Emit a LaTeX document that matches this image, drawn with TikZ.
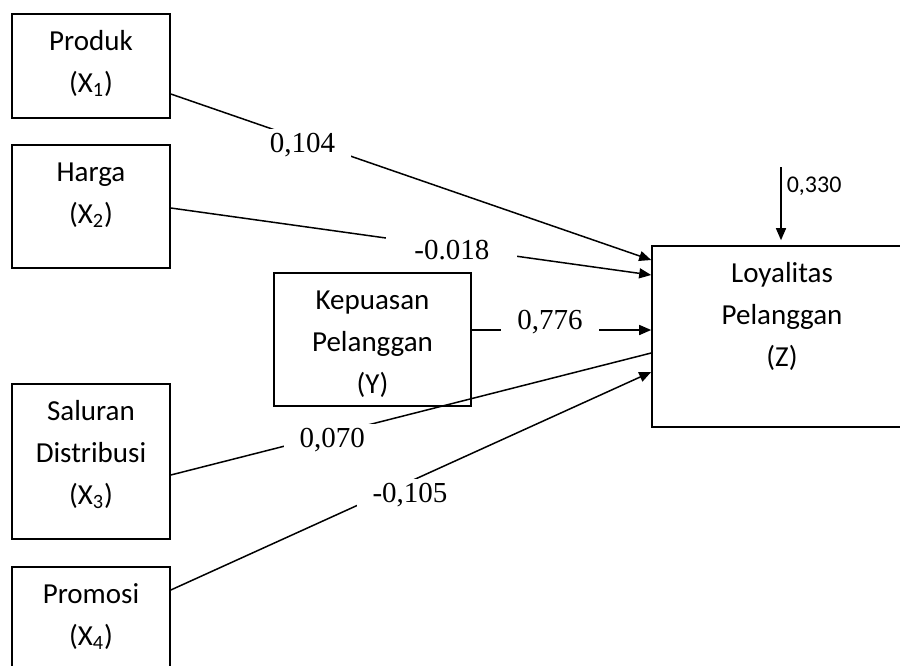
\documentclass[tikz,border=0pt]{standalone}
\usepackage{fontspec}
\setmainfont{Liberation Serif}
\newfontfamily\cfont{Carlito}
\usetikzlibrary{positioning,arrows.meta}

\begin{document}
\begin{tikzpicture}[node distance=70pt,
    varbox/.style={draw, line width=0.8pt, text width=75pt, align=center, inner xsep=2pt, inner ysep=0pt, text height=18pt, font=\cfont\fontsize{14.5}{21}\selectfont},
    coef/.style={fill=white, inner xsep=8pt, inner ysep=2pt, font=\fontsize{14.5}{16}\selectfont},
    panah/.style={line width=0.75pt, -{Triangle[length=6pt,width=5pt]}}]
    \useasboundingbox (0,0) rectangle (450pt,-332.5pt);
    \clip (0,0) rectangle (450pt,-332.5pt);
    % Variabel
    \node[varbox, text depth=34pt] (produk) at (45.5pt,-33pt) {Produk\\(X\textsubscript{1})};
    \node[varbox, text depth=43.5pt, below of=produk, yshift=-0.25pt] (harga) {Harga\\(X\textsubscript{2})};
    \node[varbox, text depth=59.5pt, below of=harga, yshift=-57.5pt] (saluran) {Saluran\\Distribusi\\(X\textsubscript{3})};
    \node[varbox, text depth=32pt, below of=saluran, yshift=-7.75pt] (promosi) {Promosi\\(X\textsubscript{4})};

    \node[varbox, text depth=48.5pt, text width=94.5pt] (kepuasan) at (186.25pt,-169.75pt) {Kepuasan\\Pelanggan\\(Y)};
    \node[varbox, text depth=72.5pt, text width=126pt, right of=kepuasan, xshift=134.75pt, yshift=1.5pt] (loyal) {Loyalitas\\Pelanggan\\(Z)};

    % Jalur
    \draw[panah] ([yshift=-14pt]produk.east) -- node[coef, pos=0.274, yshift=-2.75pt] {0,104} ([yshift=38.25pt]loyal.west);
    \draw[panah] ([yshift=-0.75pt]harga.east) -- node[coef, pos=0.585, yshift=-1.4pt, inner xsep=14pt] {-0.018} ([yshift=30.75pt]loyal.west);
    \draw[panah] ([yshift=4.75pt]kepuasan.east) -- node[coef, pos=0.436, yshift=3.75pt] {0,776} ([yshift=3.25pt]loyal.west);
    \draw[line width=0.75pt] ([yshift=-6.75pt]saluran.east) -- node[coef, pos=0.336, yshift=-3pt] {0,070} ([yshift=-8.25pt]loyal.west);
    \draw[panah] ([yshift=13.5pt]promosi.east) -- node[coef, pos=0.498, yshift=-6.75pt] {-0,105} ([yshift=-17.75pt]loyal.west);

    \coordinate (galat) at ([xshift=-0.5pt, yshift=39pt]loyal.north);
    \draw[panah, shorten >=2.5pt] (galat) -- node[pos=0.25, anchor=west, inner sep=0pt, xshift=2.5pt, font=\cfont\fontsize{12}{14}\selectfont] {0,330} ([xshift=-0.5pt]loyal.north);
\end{tikzpicture}
\end{document}
